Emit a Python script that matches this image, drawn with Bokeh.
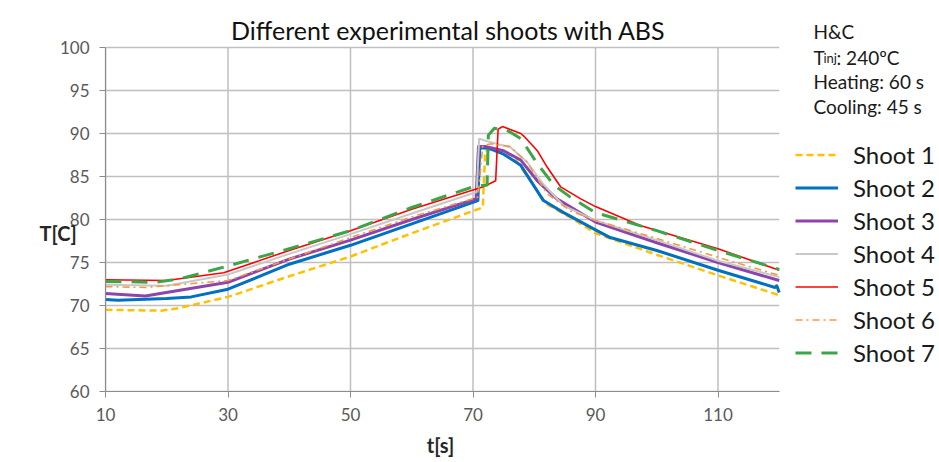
from bokeh.plotting import figure
from bokeh.models import (Range1d, FixedTicker, Legend, LegendItem, Label)
from bokeh.embed import file_html
from bokeh.resources import INLINE

# ---- data ----
s1_t = [10, 19, 22, 30, 40, 50, 60, 71.6, 72.0, 73.0, 76.5, 78.2, 82.0, 86.0, 90, 100, 110, 120]
s1_T = [69.5, 69.4, 69.7, 71.0, 73.4, 75.7, 78.4, 81.4, 88.0, 88.2, 87.4, 85.7, 81.8, 80.2, 78.4, 75.9, 73.5, 71.2]

s2_t = [10, 12, 20, 24, 30, 40, 50, 60, 70.8, 71.1, 72.5, 75, 77.8, 81.5, 84.8, 90, 92.4, 100, 110, 119.3, 119.6, 120]
s2_T = [70.7, 70.6, 70.8, 71.0, 71.9, 74.8, 77.0, 79.5, 82.2, 88.3, 88.3, 87.6, 86.3, 82.2, 80.8, 78.8, 77.9, 76.4, 74.1, 72.1, 72.3, 71.5]

s3_t = [10, 16.5, 30, 40, 50, 60, 70.5, 70.9, 72, 75, 77.8, 80.5, 83.7, 90, 100, 110, 120]
s3_T = [71.4, 71.1, 72.7, 75.4, 77.6, 80.0, 82.4, 88.5, 88.5, 88.0, 86.9, 84.5, 82.4, 79.7, 77.3, 75.0, 72.9]

s4_t = [10, 20, 30, 40, 50, 60, 70.6, 71.0, 72.3, 76.1, 78.8, 81.5, 84.8, 90, 100, 110, 120]
s4_T = [72.4, 72.3, 73.6, 76.0, 78.3, 80.7, 83.2, 89.4, 89.1, 88.4, 86.7, 84.1, 81.6, 79.9, 77.6, 75.2, 73.3]

s5_t = [10, 20, 29.3, 40, 50, 60, 71.7, 73.7, 74.1, 74.8, 77.8, 78.3, 80.5, 82.1, 84.3, 87.6, 90, 97.3, 110, 120]
s5_T = [73.0, 72.9, 73.8, 76.4, 78.7, 81.2, 83.8, 84.5, 90.5, 90.8, 90.0, 89.7, 88.0, 86.1, 83.8, 82.4, 81.5, 79.3, 76.6, 74.1]

s6_t = [10, 16.5, 30, 40, 50, 60, 70.8, 71.6, 73, 76, 78.8, 82.1, 85.9, 90, 100, 110, 120]
s6_T = [72.2, 72.1, 72.9, 75.4, 77.9, 80.3, 82.6, 88.6, 88.8, 88.5, 86.7, 83.0, 81.0, 79.9, 77.8, 75.6, 73.5]

s7_t = [10, 18.3, 22.2, 30, 40, 50, 60, 70, 72.3, 72.5, 73.5, 75.5, 77.8, 80.5, 83.2, 85.9, 90, 100, 110, 120]
s7_T = [72.8, 72.7, 73.1, 74.6, 76.6, 78.7, 81.4, 83.8, 84.0, 89.8, 90.6, 90.4, 89.4, 86.5, 84.0, 82.6, 80.8, 78.7, 76.4, 74.2]

series_names = ["Shoot 1", "Shoot 2", "Shoot 3", "Shoot 4", "Shoot 5", "Shoot 6", "Shoot 7"]
x_ticks = [10, 30, 50, 70, 90, 110]
y_ticks = [60, 65, 70, 75, 80, 85, 90, 95, 100]
x_min, x_max = 10, 120
y_min, y_max = 60, 100

title_text = "Different experimental shoots with ABS"
x_label = "t[s]"
y_label = "T[C]"
notes = ["H&C", "Heating: 60 s", "Cooling: 45 s"]
tinj_parts = ["T", "inj", ": 240ºC"]

# ---- styles ----
styles = [
    dict(color="#FFC000", width=2.5, dash="7 4"),
    dict(color="#0070C0", width=3.0, dash="solid"),
    dict(color="#8E44AD", width=3.0, dash="solid"),
    dict(color="#C8C8C8", width=2.0, dash="solid"),
    dict(color="#FF0000", width=1.6, dash="solid"),
    dict(color="#F79646", width=1.6, dash="7 4 2 4"),
    dict(color="#3CA548", width=3.0, dash="16 10"),
]

FONT = "Lato"
W, H = 939, 462
LEFT, BOTTOM = 105, 71
PX_PER_X = 6.125   # px per second
PX_PER_Y = 8.6     # px per degree
frame_w = W - LEFT
frame_h = H - BOTTOM

# frame spans to the right/top edges so the side texts and legend are not clipped;
# axes and grid are bounded to the data window
p = figure(width=W, height=H, output_backend="svg", toolbar_location=None, title=None,
           x_range=Range1d(x_min, x_min + frame_w / PX_PER_X),
           y_range=Range1d(y_min, y_min + frame_h / PX_PER_Y),
           min_border_left=LEFT, min_border_right=0, min_border_top=0, min_border_bottom=BOTTOM)

p.outline_line_color = None
p.background_fill_color = "white"
p.border_fill_color = "white"
p.xgrid.visible = False
p.ygrid.visible = False

# grid lines limited to the data window
p.segment(x0=x_ticks, y0=[y_min] * len(x_ticks), x1=x_ticks, y1=[y_max] * len(x_ticks),
          line_color="#BFBFBF", line_width=1.5, level="underlay")
p.segment(x0=[x_min] * len(y_ticks), y0=y_ticks, x1=[x_max] * len(y_ticks), y1=y_ticks,
          line_color="#BFBFBF", line_width=1.5, level="underlay")

p.xaxis.ticker = FixedTicker(ticks=x_ticks)
p.yaxis.ticker = FixedTicker(ticks=y_ticks)
p.xaxis.bounds = (x_min, x_max)
p.yaxis.bounds = (y_min, y_max)

for ax in (p.xaxis, p.yaxis):
    ax.axis_line_color = "#8C8C8C"
    ax.axis_line_width = 1.2
    ax.major_tick_line_color = "#8C8C8C"
    ax.major_tick_out = 6
    ax.major_tick_in = 0
    ax.minor_tick_line_color = None
    ax.major_label_text_font = FONT
    ax.major_label_text_font_size = "17px"
    ax.major_label_text_color = "#595959"

p.yaxis.major_label_standoff = 10
p.xaxis.major_label_standoff = 10

data = [(s1_t, s1_T), (s2_t, s2_T), (s3_t, s3_T), (s4_t, s4_T),
        (s5_t, s5_T), (s6_t, s6_T), (s7_t, s7_T)]
items = []
for name, (t, T), st in zip(series_names, data, styles):
    r = p.line(t, T, line_color=st["color"], line_width=st["width"], line_dash=st["dash"],
               line_join="round")
    items.append(LegendItem(label=name, renderers=[r]))

legend = Legend(items=items, location=(690, 22), orientation="vertical",
                padding=0, margin=0, spacing=0, border_line_color=None,
                background_fill_alpha=0, glyph_width=43, glyph_height=33,
                label_height=33, label_standoff=15,
                label_text_font=FONT, label_text_font_size="24px",
                label_text_color="#1a1a1a")
p.add_layout(legend, "center")

# axis titles as labels in the side panels (centred on the data window, not the frame)
p.add_layout(Label(x=335, y=-9, x_units="screen", y_units="screen", text=x_label,
                   text_font=FONT, text_font_size="20px", text_font_style="bold",
                   text_color="#262626", text_baseline="bottom", text_align="center"), "below")
p.add_layout(Label(x=20, y=159, x_units="screen", y_units="screen", text=y_label,
                   text_font=FONT, text_font_size="20px", text_font_style="bold",
                   text_color="#262626", text_baseline="middle", text_align="left"), "left")

# title (screen px relative to the frame's bottom-left)
p.add_layout(Label(x=343, y=362, x_units="screen", y_units="screen", text=title_text,
                   text_font=FONT, text_font_size="25px", text_color="#111111",
                   text_baseline="alphabetic", text_align="center"))

# annotation block (top right)
ann_font = "19px"
ann_specs = [(notes[0], 708, 360, ann_font),
             (tinj_parts[0], 708, 334, ann_font),
             (tinj_parts[1], 718, 334, "13px"),
             (tinj_parts[2], 731, 334, ann_font),
             (notes[1], 708, 310, ann_font),
             (notes[2], 708, 285, ann_font)]
for txt, xx, yy, fs in ann_specs:
    p.add_layout(Label(x=xx, y=yy, x_units="screen", y_units="screen", text=txt,
                       text_font=FONT, text_font_size=fs, text_color="#1a1a1a",
                       text_baseline="alphabetic", text_align="left"))

open("out.html", "w").write(file_html(p, INLINE))
